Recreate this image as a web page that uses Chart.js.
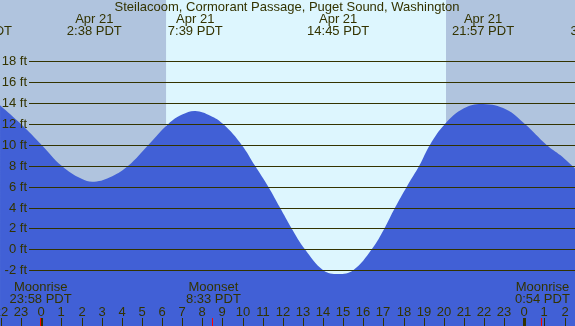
<!DOCTYPE html>
<html>
<head>
<meta charset="utf-8">
<script src="https://cdn.jsdelivr.net/npm/chart.js@4.4.1/dist/chart.umd.min.js"></script>
<style>
  body { margin: 0; background: #fff; }
  #wrap { width: 575px; height: 326px; position: relative; }
</style>
</head>
<body>
<div id="wrap"><canvas id="tideChart"></canvas></div>
<script>
// tide heights (hours from midnight Apr 21, feet)
const tideHours = [-2.05, -1.01, 0.02, 1.01, 2.0, 2.633, 3.5, 4.32, 5.32, 6.31, 7.0, 7.65, 8.4, 9.04, 9.96, 10.62, 11.28, 11.86, 12.44, 13.1, 14.01, 14.75, 15.5, 16.42, 17.05, 17.58, 18.16, 18.78, 19.31, 20.06, 21.0, 21.95, 23.1, 24.03, 25.11, 25.8, 26.52];
const tideFeet = [13.8, 12.0, 10.0, 8.0, 6.75, 6.48, 6.98, 8.0, 10.0, 12.0, 12.9, 13.25, 12.8, 12.0, 10.0, 8.0, 6.0, 4.0, 2.0, 0.0, -2.0, -2.37, -2.0, 0.0, 2.0, 4.0, 6.0, 8.0, 10.0, 12.0, 13.5, 13.92, 13.4, 12.0, 10.0, 9.0, 7.75];

// high / low tide labels along the top
const eventHours = [-3.0, 2.633, 7.65, 14.75, 21.95, 27.66];
const eventDates = ['Apr 20', 'Apr 21', 'Apr 21', 'Apr 21', 'Apr 21', 'Apr 22'];
const eventTimes = ['20:59 PDT', '2:38 PDT', '7:39 PDT', '14:45 PDT', '21:57 PDT', '3:40 PDT'];

// moon events along the bottom
const moonHours = [-0.033, 8.55, 24.9];
const moonNames = ['Moonrise', 'Moonset', 'Moonrise'];
const moonTimes = ['23:58 PDT', '8:33 PDT', '0:54 PDT'];

// daylight
const sunriseHour = 6.2;
const sunsetHour = 20.11;

const yTicks = [-2, 0, 2, 4, 6, 8, 10, 12, 14, 16, 18];
const hourTicks = [-2, -1, 0, 1, 2, 3, 4, 5, 6, 7, 8, 9, 10, 11, 12, 13, 14, 15, 16, 17, 18, 19, 20, 21, 22, 23, 24, 25, 26];

const titleText = 'Steilacoom, Cormorant Passage, Puget Sound, Washington';

const textColor = '#333300';
const nightColor = '#b0c4de';
const dayColor = '#ddf6fe';
const waterColor = '#4160d6';
const FONT = '13px "Liberation Sans", Arial, sans-serif';

const tidePoints = tideHours.map(function(h, i) {
    return { x: h, y: tideFeet[i] };
});

// Background: night / day shading
const skyPlugin = {
    id: 'sky',
    beforeDatasetsDraw(chart) {
        const ctx = chart.ctx;
        const area = chart.chartArea;
        const xs = chart.scales.x;
        ctx.save();
        ctx.fillStyle = nightColor;
        ctx.fillRect(area.left, area.top, area.right - area.left, area.bottom - area.top);
        const x1 = xs.getPixelForValue(sunriseHour);
        const x2 = xs.getPixelForValue(sunsetHour);
        ctx.fillStyle = dayColor;
        ctx.fillRect(x1, area.top, x2 - x1, area.bottom - area.top);
        ctx.restore();
    }
};

// Grid lines, labels and ticks on top of the water
const overlayPlugin = {
    id: 'overlay',
    afterDatasetsDraw(chart) {
        const ctx = chart.ctx;
        const area = chart.chartArea;
        const xs = chart.scales.x;
        const ys = chart.scales.y;
        ctx.save();
        ctx.font = FONT;
        ctx.fillStyle = textColor;
        ctx.textBaseline = 'middle';

        // horizontal grid lines and ft labels
        yTicks.forEach(function(v) {
            const y = Math.round(ys.getPixelForValue(v)) + 0.5;
            ctx.strokeStyle = textColor;
            ctx.lineWidth = 1.2;
            ctx.beginPath();
            ctx.moveTo(29, y);
            ctx.lineTo(area.right, y);
            ctx.stroke();
            ctx.textAlign = 'right';
            ctx.fillText(v + ' ft', 27, y);
        });

        // title
        ctx.textAlign = 'center';
        ctx.fillText(titleText, 287, 7);

        // tide events
        eventHours.forEach(function(h, i) {
            const x = xs.getPixelForValue(h);
            ctx.fillText(eventDates[i], x, 19);
            ctx.fillText(eventTimes[i], x, 31);
        });

        // moon events
        moonHours.forEach(function(h, i) {
            const x = xs.getPixelForValue(h);
            ctx.fillText(moonNames[i], x, 287);
            ctx.fillText(moonTimes[i], x, 299);
        });

        // hour labels and ticks
        hourTicks.forEach(function(h) {
            const x = Math.round(xs.getPixelForValue(h));
            ctx.fillText(String((h + 24) % 24), x, 312);
            ctx.fillStyle = textColor;
            if ((h + 24) % 24 === 0) {
                ctx.fillRect(x - 1, 318, 3, 8);
            } else {
                ctx.fillRect(x, 318, 1, 8);
            }
        });

        // red moon ticks
        ctx.fillStyle = '#ff0000';
        moonHours.forEach(function(h) {
            const x = Math.round(xs.getPixelForValue(h));
            ctx.fillRect(x - 1, 318, 1, 8);
        });
        ctx.restore();
    }
};

const ctx = document.getElementById('tideChart').getContext('2d');
const tideChart = new Chart(ctx, {
    type: 'line',
    data: {
        datasets: [{
            label: 'Tide',
            data: tidePoints,
            fill: 'start',
            backgroundColor: waterColor,
            borderColor: 'rgba(0,0,0,0)',
            borderWidth: 0,
            pointRadius: 0,
            tension: 0.4
        }]
    },
    options: {
        responsive: true,
        maintainAspectRatio: false,
        animation: false,
        layout: { padding: 0 },
        plugins: {
            legend: { display: false },
            tooltip: { enabled: false }
        },
        scales: {
            x: { type: 'linear', min: -2.052, max: 26.52, display: false },
            y: { type: 'linear', min: -7.35, max: 23.88, display: false }
        }
    },
    plugins: [skyPlugin, overlayPlugin]
});
</script>
</body>
</html>
